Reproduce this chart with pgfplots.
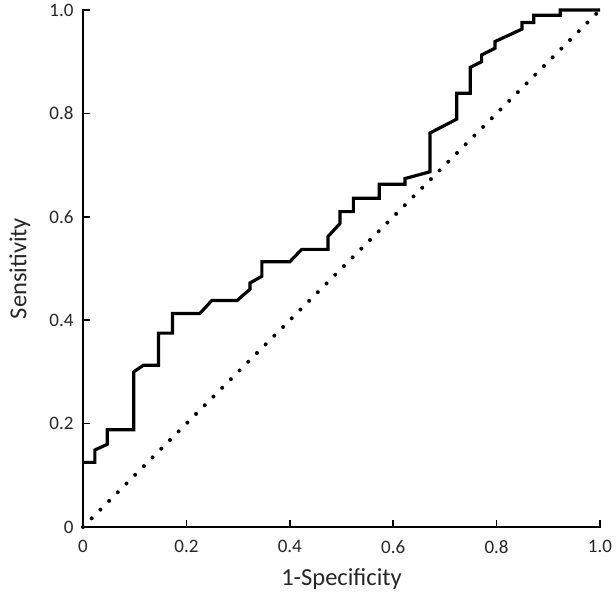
\documentclass[border=0pt]{standalone}
\usepackage{fontspec}
\setmainfont{Carlito}
\usepackage{pgfplots}
\pgfplotsset{compat=1.18}

\begin{document}
\begin{tikzpicture}
\path[use as bounding box] (-83bp,-72bp) rectangle (533bp,527bp);
\begin{axis}[
  at={(0,0)}, anchor=south west,
  scale only axis,
  width=517bp, height=517bp,
  xmin=0, xmax=1, ymin=0, ymax=1,
  axis lines*=left,
  axis line style={line width=1.8bp, line cap=rect},
  xtick={0,0.2,0.4,0.6,0.8,1.0},
  ytick={0,0.2,0.4,0.6,0.8,1.0},
  xticklabels={0,0.2,0.4,0.6,0.8,1.0},
  yticklabels={0,0.2,0.4,0.6,0.8,1.0},
  tick align=inside,
  major tick length=7bp,
  tick style={line width=1.6bp, black},
  ticklabel style={font=\fontsize{19bp}{21bp}\selectfont, text=black!85},
  /pgf/number format/assume math mode=true,
  xticklabel style={yshift=-10bp},
  yticklabel style={xshift=-6bp},
  xlabel={1-Specificity},
  ylabel={Sensitivity},
  label style={font=\fontsize{24.5bp}{27bp}\selectfont, text=black!85},
  xlabel style={at={(axis description cs:0.5,-0.1)}, anchor=center},
  ylabel style={at={(axis description cs:-0.122,0.5)}, anchor=center},
  clip=false,
]
\addplot[black, line width=4bp, line cap=round, dash pattern=on 0bp off 12.3bp]
  coordinates {(0,0) (1,1)};
\addplot[black, line width=3.2bp, line join=miter] coordinates {
  (0,0.125) (0.023,0.125) (0.023,0.149) (0.047,0.160) (0.047,0.188)
  (0.098,0.188) (0.098,0.300) (0.117,0.313) (0.146,0.313) (0.146,0.375)
  (0.173,0.375) (0.173,0.413) (0.226,0.413) (0.249,0.438) (0.298,0.438)
  (0.323,0.460) (0.323,0.472) (0.346,0.485) (0.346,0.513) (0.400,0.513)
  (0.423,0.537) (0.474,0.537) (0.474,0.562) (0.497,0.587) (0.497,0.610)
  (0.523,0.610) (0.523,0.636) (0.573,0.636) (0.573,0.663) (0.623,0.663)
  (0.623,0.674) (0.671,0.687) (0.671,0.762) (0.723,0.789) (0.723,0.839)
  (0.749,0.839) (0.749,0.889) (0.771,0.900) (0.771,0.913) (0.797,0.926)
  (0.797,0.939) (0.849,0.963) (0.849,0.976) (0.872,0.976) (0.872,0.990)
  (0.923,0.990) (0.923,1.000) (1.000,1.000)
};
\end{axis}
\end{tikzpicture}
\end{document}
